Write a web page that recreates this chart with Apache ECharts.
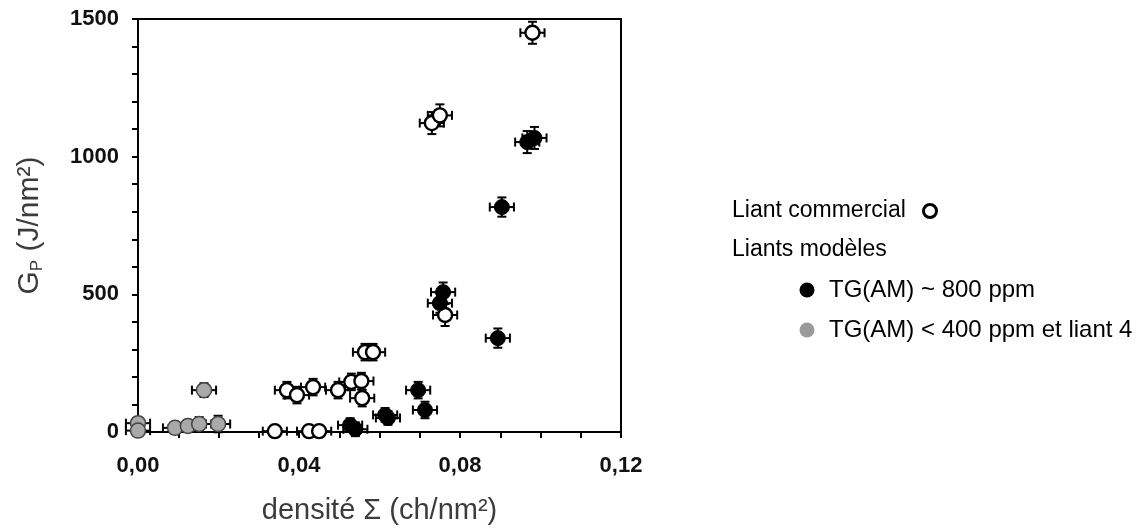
<!DOCTYPE html>
<html><head><meta charset="utf-8">
<script src="https://cdn.jsdelivr.net/npm/echarts@6/dist/echarts.min.js"></script>
<style>html,body{margin:0;padding:0;background:#fff}#c{width:1141px;height:528px}</style>
</head><body><div id="c"></div>
<script>
// Tick labels
const xTicks = [0, 0.04, 0.08, 0.12];
const yTicks = [0, 500, 1000, 1500];

// Liant commercial (open circles)
const commX    = [0.034, 0.0425, 0.045, 0.037, 0.0395, 0.0435, 0.0497, 0.053, 0.0555, 0.0557, 0.0564, 0.0584, 0.0763, 0.073, 0.075, 0.098];
const commY    = [3, 3, 3, 152, 134, 163, 152, 182, 185, 123, 290, 290, 425, 1122, 1150, 1450];
const commXErr = [0.003, 0.003, 0.003, 0.003, 0.003, 0.003, 0.003, 0.003, 0.003, 0.003, 0.003, 0.003, 0.003, 0.003, 0.003, 0.003];
const commYErr = [20, 20, 20, 30, 30, 30, 30, 30, 30, 30, 30, 30, 40, 40, 40, 40];

// Liants modèles TG(AM) ~ 800 ppm (black)
const blackX    = [0.0527, 0.054, 0.0614, 0.0621, 0.0696, 0.0713, 0.075, 0.0758, 0.0894, 0.0904, 0.0967, 0.0985];
const blackY    = [25, 10, 62, 51, 152, 80, 468, 508, 341, 817, 1053, 1068];
const blackXErr = [0.003, 0.003, 0.003, 0.003, 0.003, 0.003, 0.003, 0.003, 0.003, 0.003, 0.003, 0.003];
const blackYErr = [25, 25, 25, 25, 30, 30, 35, 35, 35, 35, 40, 40];

// TG(AM) < 400 ppm et liant 4 (grey)
const greyX    = [0, 0, 0.0092, 0.0124, 0.0152, 0.0199, 0.0164];
const greyY    = [32, 5, 15, 22, 29, 29, 152];
const greyXErr = [0.003, 0.003, 0.003, 0.003, 0.003, 0.003, 0.003];
const greyYErr = [20, 20, 20, 20, 25, 30, 25];

const zip = (xs, ys, exs, eys) => xs.map((x, i) => [x, ys[i], exs[i], eys[i]]);

function errRender(params, api) {
  const x = api.value(0), y = api.value(1), ex = api.value(2), ey = api.value(3);
  const c = api.coord([x, y]);
  const l = api.coord([x - ex, y]);
  const r = api.coord([x + ex, y]);
  const t = api.coord([x, y + ey]);
  const b = api.coord([x, y - ey]);
  const cap = 4.5;
  const style = { stroke: '#000', lineWidth: 2 };
  return {
    type: 'group',
    children: [
      { type: 'line', shape: { x1: l[0], y1: c[1], x2: r[0], y2: c[1] }, style },
      { type: 'line', shape: { x1: l[0], y1: c[1] - cap, x2: l[0], y2: c[1] + cap }, style },
      { type: 'line', shape: { x1: r[0], y1: c[1] - cap, x2: r[0], y2: c[1] + cap }, style },
      { type: 'line', shape: { x1: c[0], y1: t[1], x2: c[0], y2: b[1] }, style },
      { type: 'line', shape: { x1: c[0] - cap, y1: t[1], x2: c[0] + cap, y2: t[1] }, style },
      { type: 'line', shape: { x1: c[0] - cap, y1: b[1], x2: c[0] + cap, y2: b[1] }, style }
    ]
  };
}

const commData = zip(commX, commY, commXErr, commYErr);
const blackData = zip(blackX, blackY, blackXErr, blackYErr);
const greyData = zip(greyX, greyY, greyXErr, greyYErr);

const chart = echarts.init(document.getElementById('c'), null, { renderer: 'canvas' });
const FONT = '"Liberation Sans", Arial, sans-serif';
chart.setOption({
  animation: false,
  backgroundColor: '#fff',
  grid: { left: 138, right: 520, top: 19, bottom: 96, show: true, borderColor: '#000', borderWidth: 2, backgroundColor: 'transparent', outerBoundsMode: 'none' },
  xAxis: {
    type: 'value', min: xTicks[0], max: xTicks[xTicks.length - 1], interval: xTicks[1] - xTicks[0],
    axisLine: { show: true, onZero: false, lineStyle: { color: '#000', width: 2 } },
    axisTick: { show: true, inside: false, length: 6, lineStyle: { color: '#000', width: 2 } },
    minorTick: { show: true, splitNumber: 4, length: 6, lineStyle: { color: '#000', width: 2 } },
    splitLine: { show: false },
    axisLabel: { margin: 23, color: '#111', fontWeight: 'bold', fontSize: 22, fontFamily: FONT,
      formatter: v => v.toFixed(2).replace('.', ',') },
    name: 'densité Σ (ch/nm²)', nameLocation: 'middle', nameGap: 64,
    nameTextStyle: { color: '#3c3c3c', fontSize: 29, fontFamily: FONT }
  },
  yAxis: {
    type: 'value', min: yTicks[0], max: yTicks[yTicks.length - 1], interval: yTicks[1] - yTicks[0],
    axisLine: { show: true, onZero: false, lineStyle: { color: '#000', width: 2 } },
    axisTick: { show: true, inside: false, length: 6, lineStyle: { color: '#000', width: 2 } },
    minorTick: { show: true, splitNumber: 5, length: 6, lineStyle: { color: '#000', width: 2 } },
    splitLine: { show: false },
    axisLabel: { margin: 19, color: '#111', fontWeight: 'bold', fontSize: 22, fontFamily: FONT,
      formatter: v => String(v) },
    name: '{g|G}{p|P}{g| (J/nm²)}', nameLocation: 'middle', nameGap: 92, nameRotate: 90,
    nameTextStyle: { color: '#3c3c3c', fontSize: 30, fontFamily: FONT,
      rich: {
        g: { fontSize: 30, color: '#3c3c3c', fontFamily: FONT, lineHeight: 32 },
        p: { fontSize: 17, color: '#3c3c3c', fontFamily: FONT, verticalAlign: 'bottom', lineHeight: 26 }
      } }
  },
  series: [
    { type: 'custom', name: 'err-grey', renderItem: errRender, data: greyData, encode: { x: 0, y: 1 }, clip: false, z: 2 },
    { type: 'custom', name: 'err-comm', renderItem: errRender, data: commData, encode: { x: 0, y: 1 }, clip: false, z: 2 },
    { type: 'custom', name: 'err-black', renderItem: errRender, data: blackData, encode: { x: 0, y: 1 }, clip: false, z: 2 },
    { type: 'scatter', name: 'TG(AM) < 400 ppm et liant 4', data: greyData, symbol: 'circle', symbolSize: 15, clip: false, z: 3,
      itemStyle: { color: '#a9a9a9', borderColor: '#444', borderWidth: 1.5, opacity: 1 } },
    { type: 'scatter', name: 'Liant commercial', data: commData, symbol: 'circle', symbolSize: 14, clip: false, z: 3,
      itemStyle: { color: '#fff', borderColor: '#000', borderWidth: 2.4, opacity: 1 } },
    { type: 'scatter', name: 'TG(AM) ~ 800 ppm', data: blackData, symbol: 'circle', symbolSize: 15, clip: false, z: 3,
      itemStyle: { color: '#000', borderColor: '#000', borderWidth: 1, opacity: 1 } }
  ],
  graphic: [
    { type: 'text', style: { x: 732, y: 211, text: 'Liant commercial', font: '23px ' + FONT, fill: '#000', verticalAlign: 'middle' } },
    { type: 'circle', shape: { cx: 930, cy: 211, r: 6.5 }, style: { fill: '#fff', stroke: '#000', lineWidth: 3 } },
    { type: 'text', style: { x: 732, y: 250, text: 'Liants modèles', font: '23px ' + FONT, fill: '#000', verticalAlign: 'middle' } },
    { type: 'circle', shape: { cx: 807, cy: 290, r: 7.5 }, style: { fill: '#000' } },
    { type: 'text', style: { x: 829, y: 290, text: 'TG(AM) ~ 800 ppm', font: '24px ' + FONT, fill: '#000', verticalAlign: 'middle' } },
    { type: 'circle', shape: { cx: 807, cy: 330, r: 7.5 }, style: { fill: '#9a9a9a' } },
    { type: 'text', style: { x: 829, y: 330, text: 'TG(AM) < 400 ppm et liant 4', font: '24px ' + FONT, fill: '#000', verticalAlign: 'middle' } }
  ]
});
</script>
</body></html>
